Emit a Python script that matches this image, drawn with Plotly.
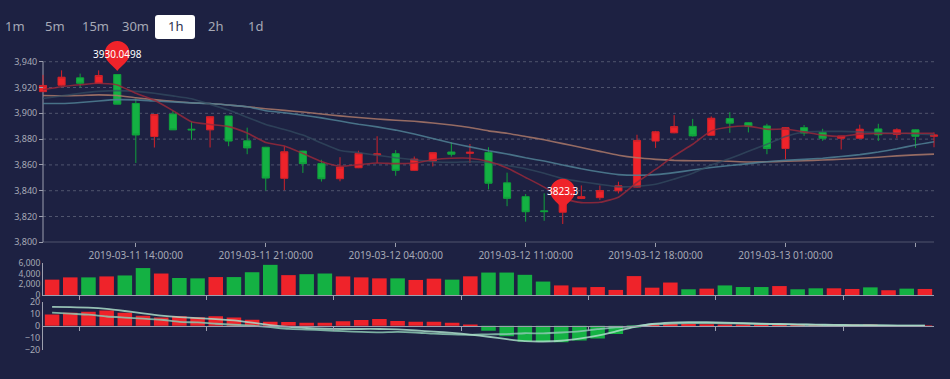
import pandas as pd
import plotly.graph_objects as go

# ---------------- data ----------------
times = pd.date_range("2019-03-11 09:00:00", periods=49, freq="h").strftime("%Y-%m-%d %H:%M:%S").tolist()

opens = [3916.8, 3921.8, 3927.5, 3923.3, 3930.05, 3907.6, 3882.0, 3899.4, 3887.7, 3887.2,
         3897.9, 3878.7, 3873.7, 3849.6, 3870.7, 3861.0, 3849.3, 3857.8, 3867.8, 3868.7,
         3855.8, 3863.0, 3870.0, 3869.0, 3869.7, 3846.1, 3835.4, 3824.4, 3823.3, 3834.0,
         3834.6, 3839.9, 3842.8, 3878.5, 3884.9, 3889.9, 3883.0, 3895.9, 3892.7, 3890.2,
         3872.7, 3888.9, 3885.2, 3880.7, 3880.7, 3887.9, 3883.7, 3887.2, 3882.2]
closes = [3921.6, 3928.0, 3923.3, 3929.3, 3907.1, 3883.2, 3899.1, 3887.2, 3887.2, 3897.4,
          3878.5, 3873.2, 3849.8, 3870.2, 3861.0, 3849.3, 3858.3, 3869.0, 3868.5, 3855.8,
          3864.5, 3869.5, 3868.3, 3869.8, 3845.8, 3834.1, 3823.7, 3823.8, 3839.0, 3835.4,
          3840.1, 3843.8, 3879.0, 3885.7, 3889.7, 3882.5, 3896.2, 3892.4, 3890.0, 3872.7,
          3888.9, 3884.7, 3880.7, 3882.4, 3887.7, 3883.4, 3887.2, 3882.2, 3883.2]
highs = [3929.8, 3933.3, 3930.8, 3933.3, 3930.05, 3911.5, 3899.5, 3902.0, 3893.2, 3897.6,
         3898.0, 3888.9, 3874.0, 3874.5, 3871.0, 3864.0, 3866.0, 3871.0, 3882.2, 3871.5,
         3866.5, 3869.7, 3877.7, 3876.2, 3873.7, 3854.0, 3837.4, 3838.0, 3841.0, 3844.1,
         3844.1, 3847.0, 3883.4, 3886.4, 3898.6, 3895.7, 3897.6, 3900.9, 3893.0, 3891.9,
         3889.2, 3890.9, 3888.0, 3882.5, 3891.2, 3891.9, 3888.4, 3887.5, 3885.2]
lows = [3916.5, 3921.5, 3920.0, 3922.8, 3907.0, 3861.5, 3873.5, 3887.0, 3879.5, 3873.5,
        3874.5, 3868.3, 3840.1, 3840.3, 3853.8, 3847.1, 3847.3, 3857.5, 3861.5, 3851.6,
        3855.5, 3858.8, 3866.5, 3861.5, 3841.0, 3828.0, 3816.0, 3816.7, 3814.2, 3833.5,
        3832.9, 3837.9, 3842.5, 3873.2, 3884.5, 3882.0, 3882.8, 3884.9, 3885.2, 3868.3,
        3864.5, 3882.5, 3878.7, 3872.0, 3880.5, 3878.5, 3880.7, 3873.2, 3873.7]

ma5 = [3918.3, 3920.6, 3922.1, 3923.3, 3922.0, 3915.5, 3910.1, 3902.1, 3893.5, 3891.4,
       3889.7, 3884.7, 3877.4, 3874.7, 3868.9, 3862.7, 3859.0, 3860.2, 3861.5, 3861.0,
       3861.5, 3864.0, 3865.2, 3865.2, 3862.7, 3857.7, 3850.3, 3842.8, 3834.0, 3830.8,
       3831.0, 3835.0, 3846.5, 3856.5, 3867.0, 3876.0, 3886.4, 3889.4, 3890.1, 3887.6,
       3887.8, 3885.6, 3883.1, 3882.1, 3883.9, 3884.4, 3884.4, 3884.6, 3884.6]
ma10 = [3911.5, 3913.5, 3915.5, 3917.0, 3917.6, 3917.0, 3915.5, 3913.5, 3911.3, 3907.0,
        3902.5, 3897.0, 3891.4, 3887.5, 3883.1, 3877.0, 3871.2, 3869.5, 3867.5, 3865.5,
        3864.0, 3862.5, 3862.0, 3862.5, 3861.9, 3859.5, 3857.0, 3853.5, 3849.5, 3847.0,
        3844.9, 3843.0, 3843.5, 3845.0, 3849.0, 3853.5, 3860.0, 3865.0, 3870.5, 3876.0,
        3882.1, 3885.5, 3886.0, 3886.0, 3885.6, 3885.0, 3884.6, 3884.0, 3883.5]
ma20 = [3907.6, 3907.6, 3908.4, 3909.6, 3910.6, 3910.4, 3909.6, 3908.9, 3908.1, 3907.6,
        3906.4, 3905.1, 3902.0, 3900.5, 3898.5, 3896.5, 3894.0, 3891.5, 3889.5, 3887.0,
        3884.0, 3880.5, 3877.0, 3874.0, 3871.0, 3868.5, 3865.5, 3863.0, 3860.0, 3857.0,
        3854.5, 3852.5, 3852.0, 3852.5, 3854.0, 3856.0, 3858.0, 3859.5, 3861.0, 3862.5,
        3863.5, 3864.3, 3865.2, 3866.5, 3868.0, 3870.0, 3872.5, 3875.5, 3878.0]
ma30 = [3913.8, 3913.6, 3913.8, 3914.3, 3913.8, 3912.1, 3910.6, 3909.4, 3908.1, 3907.6,
        3906.4, 3905.1, 3903.6, 3902.3, 3901.0, 3899.5, 3898.0, 3896.8, 3895.6, 3894.6,
        3893.8, 3892.5, 3891.0, 3889.0, 3886.4, 3884.5, 3882.0, 3879.5, 3876.5, 3873.5,
        3870.5, 3867.5, 3865.5, 3864.3, 3863.5, 3863.2, 3863.2, 3862.8, 3862.3, 3862.4,
        3862.8, 3863.2, 3863.8, 3864.4, 3865.2, 3866.0, 3867.0, 3867.8, 3868.4]

volume = [2880, 3300, 3300, 3480, 3660, 5040, 4020, 3180, 3120, 3360,
          3360, 4260, 5640, 3720, 3900, 4020, 3480, 3300, 3120, 3120,
          2820, 3060, 2880, 3500, 4200, 4200, 3780, 2520, 1800, 1440,
          1500, 960, 3540, 1380, 2340, 1080, 1200, 1800, 1500, 1500,
          1680, 1080, 1260, 1260, 1140, 1440, 900, 1200, 1140]

macd = [9.3, 10.8, 11.6, 12.6, 10.8, 8.4, 6.8, 7.9, 7.1, 7.9,
        6.9, 5.0, 3.4, 3.2, 2.6, 2.6, 3.7, 4.8, 5.6, 4.0,
        3.4, 3.4, 2.6, 0.3, -4.0, -8.5, -13.0, -13.4, -13.6, -12.0,
        -10.4, -6.8, -1.2, 0.4, 1.5, 1.5, 1.3, 1.0, 0.6, 0.5,
        0.4, 0.4, 0.4, 0.3, 0.3, 0.3, 0.2, 0.2, 0.1]
dif = [15.6, 15.4, 15.0, 14.0, 12.2, 10.2, 8.4, 7.2, 6.4, 5.6,
       4.4, 2.6, 0.6, -0.9, -1.8, -2.4, -2.6, -2.6, -2.6, -3.0,
       -3.8, -4.8, -5.8, -7.2, -9.0, -11.0, -12.6, -12.9, -12.3, -10.5,
       -8.0, -4.6, -1.0, 1.5, 2.6, 3.0, 3.0, 2.6, 2.2, 1.8,
       1.5, 1.2, 1.0, 0.8, 0.6, 0.5, 0.3, 0.2, 0.1]
dea = [10.9, 10.0, 9.2, 7.7, 6.8, 6.0, 5.0, 3.2, 2.8, 1.7,
       0.9, 0.1, -1.1, -2.5, -3.1, -3.7, -4.4, -5.0, -5.4, -5.0,
       -5.5, -6.5, -7.1, -7.4, -7.0, -6.8, -6.1, -6.2, -5.5, -4.5,
       -2.8, -1.2, -0.4, 1.3, 1.8, 2.2, 2.3, 2.1, 1.9, 1.5,
       1.3, 1.0, 0.8, 0.6, 0.4, 0.3, 0.2, 0.1, 0.05]

mark_idx = [4, 28]
mark_vals = [3930.0498, 3823.3]
mark_text = ["3930.0498", "3823.3"]

main_tick_idx = [5, 12, 19, 26, 33, 40, 47]
sub_tick_pos = [1.5, 8.5, 15.5, 22.5, 29.5, 36.5, 43.5]
price_ticks = [3800, 3820, 3840, 3860, 3880, 3900, 3920, 3940]
vol_ticks = [0, 2000, 4000, 6000]
macd_ticks = [-20, -10, 0, 10, 20]

periods = ["1m", "5m", "15m", "30m", "1h", "2h", "1d"]
period_x = [15, 55, 95, 135, 175, 215, 255]
selected_period = "1h"

# ---------------- style ----------------
W, H = 950, 379
UP, DOWN = "#ef232a", "#14b143"
UP_EDGE, DOWN_EDGE = "#d2222a", "#10a03c"
BG = "#1d2142"
AX = "#9c9fae"
TXT = "#a6a9b6"
GRID = "#50556e"
FONT = "Noto Sans"

idx = list(range(len(times)))
px = lambda v: v / W
py = lambda v: 1 - v / H

fig = go.Figure()

fig.add_trace(go.Candlestick(
    x=idx, open=opens, high=highs, low=lows, close=closes,
    increasing=dict(line=dict(color=UP_EDGE, width=1), fillcolor=UP),
    decreasing=dict(line=dict(color=DOWN_EDGE, width=1), fillcolor=DOWN),
    whiskerwidth=0, xaxis="x", yaxis="y", showlegend=False))

for series, col in [(ma30, "rgba(170,120,105,0.85)"), (ma20, "rgba(80,128,148,0.85)"),
                    (ma10, "rgba(52,78,98,0.7)"), (ma5, "rgba(150,40,58,0.85)")]:
    fig.add_trace(go.Scatter(x=idx, y=series, mode="lines", xaxis="x", yaxis="y",
                             line=dict(color=col, width=1.6, shape="spline", smoothing=0.5),
                             showlegend=False, hoverinfo="skip"))

fig.add_trace(go.Bar(x=idx, y=volume, width=0.8, xaxis="x2", yaxis="y2",
                     marker=dict(color=[UP if c >= o else DOWN for o, c in zip(opens, closes)], line_width=0),
                     showlegend=False))

fig.add_trace(go.Bar(x=idx, y=macd, width=0.8, xaxis="x3", yaxis="y3",
                     marker=dict(color=[UP if v >= 0 else DOWN for v in macd], line_width=0),
                     showlegend=False))
for series, col in [(dea, "rgba(140,200,178,0.85)"), (dif, "rgba(170,220,200,0.85)")]:
    fig.add_trace(go.Scatter(x=idx, y=series, mode="lines", xaxis="x3", yaxis="y3",
                             line=dict(color=col, width=1.8, shape="spline", smoothing=0.6),
                             showlegend=False, hoverinfo="skip"))

shapes = []
n_last = idx[-1]
for v in price_ticks[1:]:
    shapes.append(dict(type="line", xref="x", yref="y", x0=0, x1=n_last, y0=v, y1=v,
                       line=dict(color=GRID, width=1, dash="3px,3px"), layer="below"))
shapes.append(dict(type="line", xref="x", yref="y", x0=0, x1=0, y0=price_ticks[0], y1=price_ticks[-1],
                   line=dict(color=AX, width=1), layer="below"))
shapes.append(dict(type="line", xref="x", yref="y", x0=0, x1=n_last, y0=price_ticks[0], y1=price_ticks[0],
                   line=dict(color=AX, width=1), layer="below"))

pin = "M 0,3.5 C -3,8 -12.5,13 -12.5,21 C -12.5,27.9 -6.9,33.5 0,33.5 C 6.9,33.5 12.5,27.9 12.5,21 C 12.5,13 3,8 0,3.5 Z"
annotations = []
for i, v, t in zip(mark_idx, mark_vals, mark_text):
    shapes.append(dict(type="path", xref="x", yref="y", xsizemode="pixel", ysizemode="pixel",
                       xanchor=i, yanchor=v, path=pin, fillcolor=UP, line=dict(width=0), layer="above"))
    annotations.append(dict(x=i, y=v, xref="x", yref="y", yshift=21, text=t, showarrow=False,
                            font=dict(family=FONT, size=10, color="#ffffff")))

# period buttons
shapes.append(dict(type="path", xref="paper", yref="paper", xsizemode="pixel", ysizemode="pixel",
                   xanchor=0, yanchor=1,
                   path="M 158,-8 L 192,-8 Q 195,-8 195,-11 L 195,-29 Q 195,-32 192,-32 L 158,-32 Q 155,-32 155,-29 L 155,-11 Q 155,-8 158,-8 Z",
                   fillcolor="#ffffff", line=dict(width=0), layer="above"))
for p, x in zip(periods, period_x):
    annotations.append(dict(x=px(x), y=py(20), xref="paper", yref="paper", text=p, showarrow=False,
                            xanchor="center", yanchor="middle",
                            font=dict(family=FONT, size=13, color="#2c3150" if p == selected_period else TXT)))

fig.update_layout(
    width=W, height=H, margin=dict(l=0, r=0, t=0, b=0),
    paper_bgcolor=BG, plot_bgcolor=BG, showlegend=False, boxgap=0.45,
    font=dict(family=FONT, color=TXT, size=10),
    shapes=shapes, annotations=annotations,
    xaxis=dict(domain=[px(43 - 0.4 * 18.5625), px(934 + 0.4 * 18.5625)], range=[-0.4, 48.4], anchor="y",
               tickmode="array", tickvals=main_tick_idx, ticktext=[times[i] for i in main_tick_idx],
               ticks="outside", ticklen=4, tickcolor=AX, showline=False, showgrid=False, zeroline=False,
               tickfont=dict(size=10, color=TXT), rangeslider=dict(visible=False), fixedrange=True),
    yaxis=dict(domain=[py(243.67), py(32.63)], range=[3800, 3958], anchor="free", position=px(43),
               tickmode="array", tickvals=price_ticks, tickformat=",.0f", ticks="outside", ticklen=4,
               tickcolor=AX, showline=False, showgrid=False, zeroline=False,
               tickfont=dict(size=9, color=TXT), fixedrange=True),
    xaxis2=dict(domain=[px(43), px(934)], range=[-0.5, 48.5], anchor="y2", showline=True, linecolor=AX,
                tickmode="array", tickvals=sub_tick_pos, ticks="outside", ticklen=4, tickcolor=AX,
                showticklabels=False, showgrid=False, zeroline=False, fixedrange=True),
    yaxis2=dict(domain=[py(298.3), py(265)], range=[0, 6000], anchor="x2", showline=True, linecolor=AX,
                tickmode="array", tickvals=vol_ticks, tickformat=",d", ticks="", showgrid=False,
                zeroline=False, tickfont=dict(size=8.5, color=TXT), fixedrange=True),
    xaxis3=dict(domain=[px(43), px(934)], range=[-0.5, 48.5], anchor="free", position=py(330.3),
                showline=True, linecolor=AX, tickmode="array", tickvals=sub_tick_pos, ticks="outside",
                ticklen=4, tickcolor=AX, showticklabels=False, showgrid=False, zeroline=False, fixedrange=True),
    yaxis3=dict(domain=[py(355.3), py(305)], range=[-20, 20], anchor="x3", showline=True, linecolor=AX,
                tickmode="array", tickvals=macd_ticks, ticks="", showgrid=False, zeroline=False,
                tickfont=dict(size=9, color=TXT), fixedrange=True),
)

fig.write_html("out.html", config={"displayModeBar": False},
               post_script="document.body.style.margin='0';document.body.style.overflow='hidden';")
